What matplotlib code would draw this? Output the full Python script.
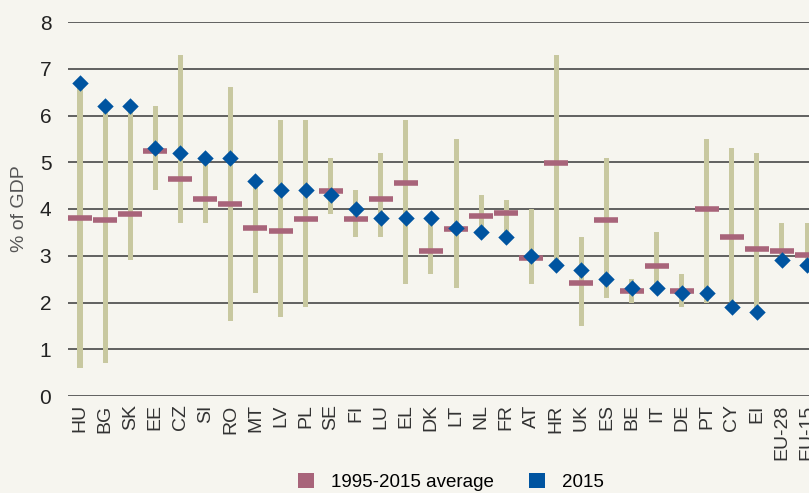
import matplotlib
matplotlib.use("Agg")
import matplotlib.pyplot as plt
from matplotlib.patches import Patch

countries = ["HU", "BG", "SK", "EE", "CZ", "SI", "RO", "MT", "LV", "PL", "SE", "FI", "LU", "EL", "DK",
             "LT", "NL", "FR", "AT", "HR", "UK", "ES", "BE", "IT", "DE", "PT", "CY", "EI", "EU-28", "EU-15"]
range_min = [0.6, 0.7, 2.9, 4.4, 3.7, 3.7, 1.6, 2.2, 1.7, 1.9, 3.9, 3.4, 3.4, 2.4, 2.6,
             2.3, 3.5, 3.4, 2.4, 2.8, 1.5, 2.1, 2.0, 2.3, 1.9, 2.0, 1.9, 1.8, 2.9, 2.8]
range_max = [6.7, 6.2, 6.2, 6.2, 7.3, 5.1, 6.6, 4.6, 5.9, 5.9, 5.1, 4.4, 5.2, 5.9, 3.8,
             5.5, 4.3, 4.2, 4.0, 7.3, 3.4, 5.1, 2.5, 3.5, 2.6, 5.5, 5.3, 5.2, 3.7, 3.7]
avg_1995_2015 = [3.81, 3.77, 3.90, 5.24, 4.64, 4.22, 4.11, 3.60, 3.54, 3.79, 4.39, 3.79, 4.22, 4.56, 3.11,
                 3.58, 3.84, 3.92, 2.96, 4.99, 2.41, 3.77, 2.24, 2.79, 2.24, 4.00, 3.40, 3.15, 3.11, 3.02]
val_2015 = [6.7, 6.2, 6.2, 5.3, 5.2, 5.1, 5.1, 4.6, 4.4, 4.4, 4.3, 4.0, 3.8, 3.8, 3.8,
            3.6, 3.5, 3.4, 3.0, 2.8, 2.7, 2.5, 2.3, 2.3, 2.2, 2.2, 1.9, 1.8, 2.9, 2.8]
yticks = [0, 1, 2, 3, 4, 5, 6, 7, 8]

BG = "#f6f5ef"
C_RANGE = "#c8c8a0"
C_AVG = "#a8647a"
C_2015 = "#0054a0"

plt.rcParams['font.family'] = ['Liberation Sans', 'DejaVu Sans']

W, H = 809, 493
fig = plt.figure(figsize=(W / 100, H / 100), dpi=100, facecolor=BG)
step = 25.07
left_px = 68
x0_px = 80
n = len(countries)
right_px = x0_px + (n - 1) * step + 0.48 * step
ax = fig.add_axes([left_px / W, (H - 396) / H, (right_px - left_px) / W, (396 - 22) / H])
ax.set_facecolor(BG)

x = list(range(n))
heights = [b - a for a, b in zip(range_min, range_max)]
ax.bar(x, heights, bottom=range_min, width=0.2, color=C_RANGE, zorder=2)
ax.scatter(x, avg_1995_2015, marker="_", s=17 ** 2, linewidths=4.0, color=C_AVG, zorder=3)
ax.scatter(x, val_2015, marker="D", s=70, color=C_2015, zorder=4, linewidths=0)

ax.set_ylim(0, 8)
ax.set_xlim(-(x0_px - left_px) / step, (right_px - x0_px) / step)
ax.set_yticks(yticks)
ax.set_yticklabels([str(v) for v in yticks], fontsize=15, color="#222222")
ax.yaxis.grid(True, color="#555555", linewidth=1.3, zorder=1)
ax.set_axisbelow(True)
ax.tick_params(axis="y", length=0, pad=12)
ax.tick_params(axis="x", length=0, pad=6)
ax.set_xticks(x)
ax.set_xticklabels(countries, rotation=90, fontsize=14, color="#333333")
for s in ax.spines.values():
    s.set_visible(False)
ax.set_ylabel("% of GDP", fontsize=14, color="#555555", labelpad=8)

handles = [Patch(facecolor=C_AVG, edgecolor="none"), Patch(facecolor=C_2015, edgecolor="none")]
fig.legend(handles, ["1995-2015 average", "2015"], loc="center", bbox_to_anchor=(451 / W, 1 - 482 / H),
           ncol=2, frameon=False, fontsize=13.5, handlelength=0.85, handleheight=0.85,
           columnspacing=1.9, handletextpad=0.9)

fig.savefig("out.png", dpi=100, facecolor=BG)
